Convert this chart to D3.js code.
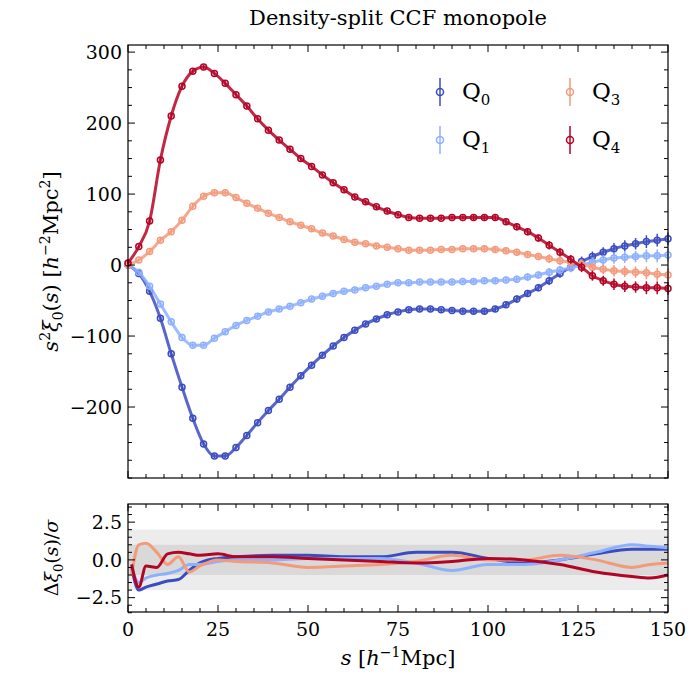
<!DOCTYPE html>
<html><head><meta charset="utf-8">
<script src="https://cdn.jsdelivr.net/npm/d3@7"></script>
<style>body{margin:0;background:#fff}svg{font-family:"DejaVu Serif","Liberation Serif",serif}</style>
</head><body><svg id="c" width="700" height="700"></svg>
<script>
const sBins = d3.range(0, 151, 3);
const q0 = [0,-12,-37,-75,-125,-172,-216,-252,-269,-269,-257,-240,-222,-205,-189,-172,-156,-141,-127,-114,-102,-92,-83,-76,-70,-66,-63,-62,-62,-63,-64,-65,-65,-65,-62,-56,-48,-40,-32,-22,-12,-3,5,12,18,23,27,30,33,35,37];
const q1 = [0,-10,-30,-55,-80,-102,-113,-113,-103,-94,-85,-78,-72,-66,-62,-58,-53,-48,-44,-40,-37,-35,-32,-30,-27,-25,-25,-24,-24,-24,-24,-23,-23,-22,-22,-21,-20,-17,-14,-10,-7,-4,0,4,7,10,11,12,13,13,14];
const q3 = [0,7,19,35,47,63,83,97,102,102,95,87,80,73,67,61,56,51,45,41,36,32,30,27,25,23,21,21,21,22,22,23,23,23,22,20,18,15,12,9,6,4,1,-3,-6,-8,-9,-10,-11,-13,-14];
const q4 = [3,26,62,148,210,252,273,279,270,256,240,224,206,190,176,163,150,139,127,116,106,96,89,82,76,71,67,66,66,66,67,67,67,67,67,61,54,47,38,28,18,8,-3,-15,-22,-27,-30,-31,-32,-32,-33];
const errMain = [2,2,3,3,3,3,3,3,3,3,3,3,3,3,3,3,3,3,3,3,3,3,3,3,3,3,3,3,3,3,3,3,4,4,4,4,5,5,5,6,6,6,7,7,7,8,8,8,9,9,9];
const sRes = [1,3,5,8,11,14,17,20,25,30,40,50,60,70,80,90,100,110,120,130,140,145,150];
const r0 = [-0.5,-2.0,-1.8,-1.6,-1.4,-1.3,-0.7,-0.2,0.1,0.2,0.3,0.3,0.2,0.2,0.5,0.5,0.1,-0.2,0.0,0.4,0.7,0.7,0.7];
const r1 = [-0.5,-1.5,-1.2,-1.0,-0.9,-0.7,-0.3,-0.3,-0.1,0.0,0.0,0.1,0.1,0.1,-0.2,-0.7,-0.3,-0.3,0.0,0.5,1.0,0.9,0.8];
const r3 = [-1.0,1.0,1.1,0.5,-0.3,0.2,-0.8,-0.4,0.0,-0.1,-0.2,-0.5,-0.4,-0.3,-0.1,0.3,0.0,0.0,0.3,0.0,-0.5,-0.3,-0.2];
const r4 = [-0.3,-1.8,-0.4,-0.5,0.4,0.5,0.4,0.3,0.4,0.2,0.2,0.1,0.0,-0.1,-0.2,-0.1,0.1,0.0,-0.3,-0.8,-1.1,-1.2,-1.0];
const names = ["0","1","3","4"];
const colors = ["#3b4cc0","#8db0fe","#f39a7b","#b40426"];
const xTicks = [0,25,50,75,100,125,150];
const yTicks = [-200,-100,0,100,200,300];
const rTicks = [-2.5,0,2.5];

const svg = d3.select("#c");
const L=128,R=668,T=45,B=478,T2=504,B2=612;
const x = d3.scaleLinear().domain([0,150]).range([L,R]);
const y = d3.scaleLinear().domain([-300,310]).range([B,T]);
const y2 = d3.scaleLinear().domain([-3.45,3.7]).range([B2,T2]);
const main=[q0,q1,q3,q4], res=[r0,r1,r3,r4];

svg.append("rect").attr("x",L).attr("width",R-L).attr("y",y2(2)).attr("height",y2(-2)-y2(2)).attr("fill","#ececec");
svg.append("rect").attr("x",L).attr("width",R-L).attr("y",y2(1)).attr("height",y2(-1)-y2(1)).attr("fill","#d9d9d9");

const line = d3.line().curve(d3.curveMonotoneX);
main.forEach((v,i)=>{
  const g=svg.append("g");
  const pts=sBins.map((s,j)=>[x(s),y(v[j])]);
  g.append("path").attr("d",line(pts)).attr("fill","none").attr("stroke",colors[i]).attr("stroke-width",3).attr("opacity",0.85);
  sBins.forEach((s,j)=>{
    g.append("line").attr("x1",x(s)).attr("x2",x(s)).attr("y1",y(v[j]-errMain[j])).attr("y2",y(v[j]+errMain[j])).attr("stroke",colors[i]).attr("stroke-width",1.5);
    g.append("circle").attr("cx",x(s)).attr("cy",y(v[j])).attr("r",3).attr("fill","none").attr("stroke",colors[i]).attr("stroke-width",1.5);
  });
});
res.forEach((v,i)=>{
  svg.append("path").attr("d",line(sRes.map((s,j)=>[x(s),y2(v[j])]))).attr("fill","none").attr("stroke",colors[i]).attr("stroke-width",3);
});

function frame(yS,top,bot,major,minor,fmt){
  svg.append("rect").attr("x",L).attr("y",top).attr("width",R-L).attr("height",bot-top).attr("fill","none").attr("stroke","#000").attr("stroke-width",1.2);
  const tk=(x1,y1,x2,y2)=>svg.append("line").attr("x1",x1).attr("y1",y1).attr("x2",x2).attr("y2",y2).attr("stroke","#000").attr("stroke-width",1);
  d3.range(0,151,5).forEach(s=>{const len=s%25===0?7:4;tk(x(s),bot,x(s),bot-len);tk(x(s),top,x(s),top+len);});
  minor.forEach(t=>{const len=major.includes(t)?7:4;tk(L,yS(t),L+len,yS(t));tk(R,yS(t),R-len,yS(t));});
  major.forEach(t=>svg.append("text").attr("x",L-6).attr("y",yS(t)).attr("dy","0.35em").attr("text-anchor","end").attr("font-size",19).text(fmt(t).replace("-","−")));
}
frame(y,T,B,yTicks,d3.range(-300,301,25),d3.format("d"));
frame(y2,T2,B2,rTicks,d3.range(-3.5,3.6,0.5),d3.format(".1f"));
xTicks.forEach(t=>svg.append("text").attr("x",x(t)).attr("y",B2+24).attr("text-anchor","middle").attr("font-size",19).text(t));

svg.append("text").attr("x",(L+R)/2).attr("y",25).attr("text-anchor","middle").attr("font-size",21).text("Density-split CCF monopole");
const xl=svg.append("text").attr("x",(L+R)/2).attr("y",665).attr("text-anchor","middle").attr("font-size",21);
xl.append("tspan").attr("font-style","italic").text("s");xl.append("tspan").text(" [");
xl.append("tspan").attr("font-style","italic").text("h");xl.append("tspan").attr("font-size",14).attr("dy",-8).text("−1");
xl.append("tspan").attr("dy",8).text("Mpc]");
const yl=svg.append("text").attr("transform",`translate(58,${(T+B)/2}) rotate(-90)`).attr("text-anchor","middle").attr("font-size",21);
yl.append("tspan").attr("font-style","italic").text("s");yl.append("tspan").attr("font-size",14).attr("dy",-8).text("2");
yl.append("tspan").attr("dy",8).attr("font-style","italic").text("ξ");yl.append("tspan").attr("font-size",14).attr("dy",5).text("0");
yl.append("tspan").attr("dy",-5).text("(");yl.append("tspan").attr("font-style","italic").text("s");yl.append("tspan").text(") [");
yl.append("tspan").attr("font-style","italic").text("h");yl.append("tspan").attr("font-size",14).attr("dy",-8).text("−2");
yl.append("tspan").attr("dy",8).text("Mpc");yl.append("tspan").attr("font-size",14).attr("dy",-8).text("2");yl.append("tspan").attr("dy",8).text("]");
const yl2=svg.append("text").attr("transform",`translate(58,${(T2+B2)/2}) rotate(-90)`).attr("text-anchor","middle").attr("font-size",19);
yl2.append("tspan").text("Δ");yl2.append("tspan").attr("font-style","italic").text("ξ");yl2.append("tspan").attr("font-size",13).attr("dy",5).text("0");
yl2.append("tspan").attr("dy",-5).text("(");yl2.append("tspan").attr("font-style","italic").text("s");yl2.append("tspan").text(")/");yl2.append("tspan").attr("font-style","italic").text("σ");

names.forEach((n,i)=>{
  const lx = i<2?440:570, ly = i%2===0?92:140;
  svg.append("line").attr("x1",lx).attr("x2",lx).attr("y1",ly-14).attr("y2",ly+14).attr("stroke",colors[i]).attr("stroke-width",1.5);
  svg.append("circle").attr("cx",lx).attr("cy",ly).attr("r",3.5).attr("fill","none").attr("stroke",colors[i]).attr("stroke-width",1.5);
  const t=svg.append("text").attr("x",lx+22).attr("y",ly+7).attr("font-size",23).text("Q");
  t.append("tspan").attr("font-size",15).attr("dy",6).text(n);
});
</script></body></html>
